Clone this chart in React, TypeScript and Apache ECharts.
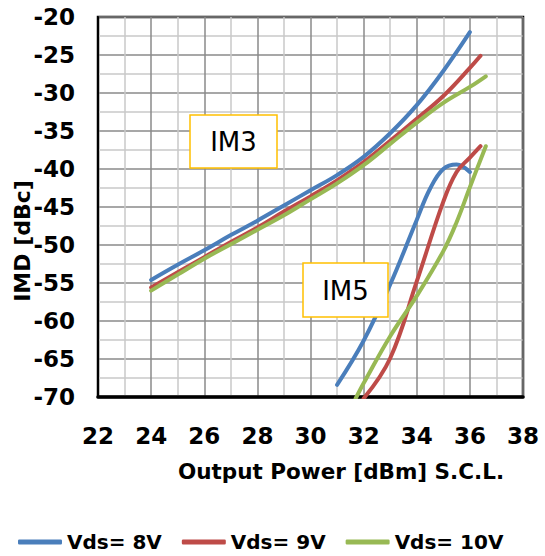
import React, { useEffect, useRef } from "react";
import * as echarts from "echarts";

const seriesNames = ["Vds= 8V", "Vds= 9V", "Vds= 10V"];
const seriesColors = ["#4a7ebb", "#be4b48", "#98b954"];

// IM3 curves [Output power dBm, IMD dBc]
const im3Vds8: [number, number][] = [
  [24, -54.6], [25, -52.6], [26, -50.7], [27, -48.7], [28, -46.8], [29, -44.8],
  [30, -42.8], [31, -40.8], [32, -38.4], [33, -35.3], [34, -31.6], [35, -27.1], [36, -22.0],
];
const im3Vds9: [number, number][] = [
  [24, -55.6], [25, -53.6], [26, -51.6], [27, -49.6], [28, -47.7], [29, -45.6],
  [30, -43.6], [31, -41.5], [32, -39.1], [33, -36.3], [34, -33.4], [35, -30.4], [36, -26.7], [36.4, -25.1],
];
const im3Vds10: [number, number][] = [
  [24, -56.0], [25, -53.9], [26, -51.8], [27, -49.9], [28, -48.0], [29, -46.1],
  [30, -44.0], [31, -41.9], [32, -39.5], [33, -36.7], [34, -33.9], [35, -31.3], [36, -29.2], [36.6, -27.8],
];

// IM5 curves
const im5Vds8: [number, number][] = [
  [31, -68.4], [32, -62.6], [33, -55.2], [34, -46.7], [34.5, -42.6], [35, -40.0], [35.5, -39.4], [36, -40.4],
];
const im5Vds9: [number, number][] = [
  [32, -70.2], [33, -64.9], [34, -54.8], [35, -44.3], [35.5, -40.4], [36, -38.5], [36.4, -37.0],
];
const im5Vds10: [number, number][] = [
  [31.7, -70.2], [32, -68.2], [33, -62.0], [34, -56.7], [35, -50.8], [35.5, -47.0], [36, -42.4], [36.6, -37.0],
];

const xMin = 22, xMax = 38, xStep = 2;
const yMin = -70, yMax = -20, yStep = 5;

const xTitle = "Output Power [dBm] S.C.L.";
const yTitle = "IMD [dBc]";
const annotations = ["IM3", "IM5"];

const FONT = '"DejaVu Sans", Verdana, sans-serif';

export default function App() {
  const ref = useRef<HTMLDivElement>(null);
  useEffect(() => {
    if (!ref.current) return;
    const chart = echarts.init(ref.current, null, { renderer: "svg" });
    const im3 = [im3Vds8, im3Vds9, im3Vds10];
    const im5 = [im5Vds8, im5Vds9, im5Vds10];
    const mk = (data: [number, number][], i: number, smooth: number) => ({
      name: seriesNames[i],
      type: "line",
      data,
      smooth,
      symbol: "none",
      showSymbol: false,
      color: seriesColors[i],
      lineStyle: { width: 4, color: seriesColors[i], cap: "round" },
      z: 3,
    });
    const series: any[] = [];
    im3.forEach((d, i) => series.push(mk(d, i, 0.4)));
    im5.forEach((d, i) => series.push(mk(d, i, 0.4)));

    chart.setOption({
      animation: false,
      backgroundColor: "#fff",
      grid: {
        left: 98, right: 22, top: 17, bottom: 159,
        show: true, borderColor: "#000", borderWidth: 2.5, backgroundColor: "transparent",
      },
      xAxis: {
        type: "value", min: xMin, max: xMax, interval: xStep,
        axisLine: { show: true, lineStyle: { color: "#000", width: 3.5 } },
        axisTick: { show: false },
        axisLabel: { color: "#000", fontSize: 23, fontWeight: "bold", fontFamily: FONT, margin: 27 },
        splitLine: { show: true, lineStyle: { color: "#8a8a8a", width: 1.5 } },
        minorTick: { show: false, splitNumber: 2 },
        minorSplitLine: { show: true, lineStyle: { color: "#c8c8c8", width: 1.5 } },
      },
      yAxis: {
        type: "value", min: yMin, max: yMax, interval: yStep,
        axisLine: { show: true, lineStyle: { color: "#000", width: 2 } },
        axisTick: { show: false },
        axisLabel: { color: "#000", fontSize: 23, fontWeight: "bold", fontFamily: FONT, margin: 23 },
        splitLine: { show: true, lineStyle: { color: "#8a8a8a", width: 1.5 } },
        minorTick: { show: false, splitNumber: 2 },
        minorSplitLine: { show: true, lineStyle: { color: "#c8c8c8", width: 1.5 } },
      },
      legend: {
        data: seriesNames,
        left: 18, top: 531, padding: 0,
        icon: "roundRect",
        itemWidth: 44, itemHeight: 5, itemGap: 20,
        textStyle: { color: "#000", fontSize: 20, fontWeight: "bold", fontFamily: FONT, lineHeight: 22 },
      },
      series,
      graphic: [
        {
          type: "text", x: 341, y: 471, z: 10,
          style: { text: xTitle, font: `bold 21.5px ${FONT}`, fill: "#000", align: "center", verticalAlign: "middle" },
        },
        {
          type: "text", x: 22, y: 241, rotation: Math.PI / 2, z: 10,
          style: { text: yTitle, font: `bold 22px ${FONT}`, fill: "#000", align: "center", verticalAlign: "middle" },
        },
        {
          type: "group", z: 20,
          children: [
            { type: "rect", shape: { x: 190, y: 115, width: 87, height: 53 }, style: { fill: "#fff", stroke: "#ffc000", lineWidth: 1.5 }, z: 20 },
            { type: "text", x: 233.5, y: 142, z: 21, style: { text: annotations[0], font: `normal 26px ${FONT}`, fill: "#000", align: "center", verticalAlign: "middle" } },
            { type: "rect", shape: { x: 303, y: 263, width: 85, height: 54 }, style: { fill: "#fff", stroke: "#ffc000", lineWidth: 1.5 }, z: 20 },
            { type: "text", x: 345.5, y: 290.5, z: 21, style: { text: annotations[1], font: `normal 26px ${FONT}`, fill: "#000", align: "center", verticalAlign: "middle" } },
          ],
        },
      ],
    });
    return () => chart.dispose();
  }, []);
  return <div ref={ref} style={{ width: 545, height: 556, position: "absolute", left: 0, top: 0 }} />;
}
